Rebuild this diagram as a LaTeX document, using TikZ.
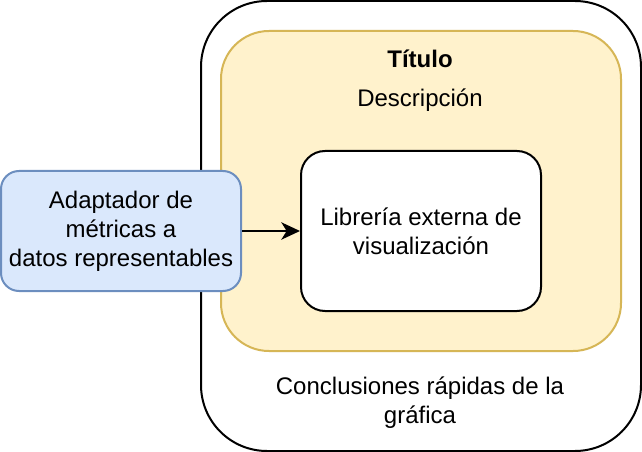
\documentclass[tikz,border=0pt]{standalone}
\usepackage{fontspec}
\setmainfont{Liberation Sans}
\usetikzlibrary{positioning, arrows.meta}

\definecolor{notefill}{HTML}{FFF2CC}
\definecolor{notedraw}{HTML}{D6B656}
\definecolor{adaptfill}{HTML}{DAE8FC}
\definecolor{adaptdraw}{HTML}{6C8EBF}

\begin{document}
\begin{tikzpicture}[
        x=0.75pt, y=-0.75pt,
        every node/.style={font=\fontsize{18pt}{21.6pt}\selectfont, align=center, inner sep=0pt},
        panel/.style={draw, line width=1.5pt, fill=white},
        link/.style={line width=1.5pt, -{Stealth[length=14pt, width=13pt, inset=4pt]}}
    ]
        \useasboundingbox (0,0) rectangle (642,452);

        % Outer card and the yellow chart area
        \node[panel, rounded corners=49.5pt, minimum width=330pt, minimum height=337.5pt] (card) at (421,226) {};
        \node[panel, draw=notedraw, fill=notefill, rounded corners=36pt,
              minimum width=300pt, minimum height=240pt] (chart) at (421,191) {};

        % Texts of the card
        \node[font=\fontsize{18pt}{21.6pt}\selectfont\bfseries] (title) at (420,59) {Título};
        \node (desc) at (420,100) {Descripción};
        \node (concl) at (420,403) {Conclusiones rápidas de la\\gráfica};

        % External library and the adapter
        \node[panel, rounded corners=18pt, minimum width=180pt, minimum height=120pt] (lib) at (421,231)
            {Librería externa de\\visualización};
        \node[panel, draw=adaptdraw, fill=adaptfill, rounded corners=13.5pt,
              minimum width=180pt, minimum height=90pt] (adapter) at (121,231)
            {Adaptador de\\métricas a\\datos representables};

        \draw[link] (adapter) -- (lib);

    \end{tikzpicture}
\end{document}
